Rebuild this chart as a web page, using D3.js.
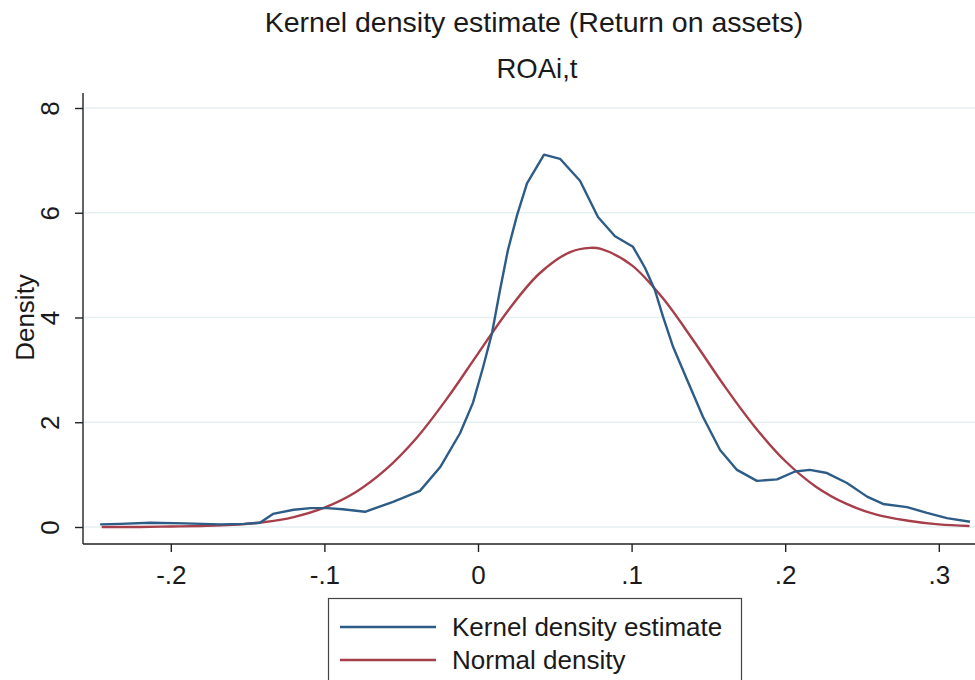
<!DOCTYPE html>
<html>
<head>
<meta charset="utf-8">
<script src="https://cdn.jsdelivr.net/npm/d3@7/dist/d3.min.js"></script>
<style>
  html, body { margin: 0; padding: 0; background: #ffffff; }
  svg { display: block; }
  text { font-family: "Liberation Sans", Arial, Helvetica, sans-serif; fill: #1a1a1a; }
</style>
</head>
<body>
<svg id="chart" width="975" height="680"></svg>
<script>
// Kernel density estimate of ROA (x = return on assets, y = density)
const kernelX = [-0.246, -0.233, -0.2135, -0.191, -0.168, -0.152, -0.142, -0.1335, -0.120, -0.109,
                 -0.098, -0.088, -0.0736, -0.0553, -0.0378, -0.0247, -0.0117, -0.0033, 0.0033, 0.0091,
                 0.0143, 0.0195, 0.0254, 0.0319, 0.0430, 0.0534, 0.0664, 0.0781, 0.0892, 0.1009,
                 0.1087, 0.1152, 0.1204, 0.1270, 0.1361, 0.1465, 0.1576, 0.1686, 0.1816, 0.1947,
                 0.2064, 0.2161, 0.2272, 0.2402, 0.2533, 0.2637, 0.2793, 0.2923, 0.3053, 0.3203];
const kernelY = [0.05, 0.06, 0.08, 0.07, 0.05, 0.06, 0.08, 0.25, 0.33, 0.36,
                 0.36, 0.34, 0.29, 0.48, 0.69, 1.14, 1.79, 2.37, 3.05, 3.70,
                 4.52, 5.29, 5.95, 6.56, 7.11, 7.03, 6.61, 5.92, 5.55, 5.35,
                 4.95, 4.52, 4.02, 3.44, 2.81, 2.10, 1.47, 1.09, 0.88, 0.91,
                 1.06, 1.09, 1.03, 0.84, 0.58, 0.44, 0.38, 0.27, 0.17, 0.10];

// Normal density with the same mean and s.d.
const normalX = [-0.245, -0.22, -0.20, -0.18, -0.16, -0.14, -0.12, -0.10, -0.08, -0.06,
                 -0.04, -0.02, 0.00, 0.02, 0.04, 0.06, 0.073, 0.08, 0.10, 0.12, 0.14,
                 0.16, 0.18, 0.20, 0.22, 0.24, 0.26, 0.28, 0.30, 0.32];
const normalY = [0.00, 0.00, 0.01, 0.02, 0.04, 0.09, 0.19, 0.37, 0.66, 1.10,
                 1.70, 2.46, 3.31, 4.15, 4.84, 5.25, 5.33, 5.31, 5.00, 4.38, 3.57,
                 2.71, 1.92, 1.26, 0.77, 0.44, 0.23, 0.12, 0.05, 0.02];

const xTicks = [-0.2, -0.1, 0, 0.1, 0.2, 0.3];
const xTickLabels = ["-.2", "-.1", "0", ".1", ".2", ".3"];
const yTicks = [0, 2, 4, 6, 8];

const titleText = "Kernel density estimate (Return on assets)";
const subtitleText = "ROAi,t";
const yTitle = "Density";
const legendLabels = ["Kernel density estimate", "Normal density"];
const colors = ["#2d5c87", "#a63f4a"];

const svg = d3.select("#chart");

const x = d3.scaleLinear().domain([-0.2, 0.3]).range([170.8, 938.8]);
const y = d3.scaleLinear().domain([0, 8]).range([527, 108]);

const plotLeft = 83, plotRight = 975, plotTop = 93, plotBottom = 544;
const labelFont = "26px";

// grid lines
svg.append("g")
  .selectAll("line")
  .data(yTicks)
  .join("line")
  .attr("x1", plotLeft + 1).attr("x2", plotRight)
  .attr("y1", d => y(d)).attr("y2", d => y(d))
  .attr("stroke", "#e6eff1").attr("stroke-width", 1.6);

// y axis
const yAxis = d3.axisLeft(y).tickValues(yTicks).tickSize(8).tickPadding(0).tickFormat(d3.format("d"));
const gy = svg.append("g").attr("transform", `translate(${plotLeft},0)`).call(yAxis);
gy.select(".domain").attr("d", `M0,${plotTop}V${plotBottom}`).attr("stroke", "#222").attr("stroke-width", 1.4);
gy.selectAll(".tick line").attr("stroke", "#222").attr("stroke-width", 1.4);
gy.selectAll(".tick text")
  .attr("x", 0).attr("y", 0).attr("dy", "0.36em")
  .attr("text-anchor", "middle")
  .attr("transform", "translate(-33,0) rotate(-90)")
  .style("font-size", labelFont).style("font-family", "'Liberation Sans', Arial, sans-serif").attr("fill", "#1a1a1a");
gy.selectAll(".tick text").attr("dy", null).attr("y", 9);

// x axis
const xAxis = d3.axisBottom(x).tickValues(xTicks).tickSize(8).tickPadding(14)
  .tickFormat((d, i) => xTickLabels[i]);
const gx = svg.append("g").attr("transform", `translate(0,${plotBottom})`).call(xAxis);
gx.select(".domain").attr("d", `M${plotLeft},0H${plotRight}`).attr("stroke", "#222").attr("stroke-width", 1.4);
gx.selectAll(".tick line").attr("stroke", "#222").attr("stroke-width", 1.4);
gx.selectAll(".tick text")
  .style("font-size", labelFont).style("font-family", "'Liberation Sans', Arial, sans-serif").attr("fill", "#1a1a1a");

// curves
const line = d3.line().x(d => x(d[0])).y(d => y(d[1]));
const smooth = d3.line().x(d => x(d[0])).y(d => y(d[1])).curve(d3.curveCatmullRom.alpha(0.5));

svg.append("path")
  .datum(normalX.map((v, i) => [v, normalY[i]]))
  .attr("d", smooth)
  .attr("fill", "none").attr("stroke", colors[1]).attr("stroke-width", 2.4)
  .attr("stroke-linejoin", "round");

svg.append("path")
  .datum(kernelX.map((v, i) => [v, kernelY[i]]))
  .attr("d", line)
  .attr("fill", "none").attr("stroke", colors[0]).attr("stroke-width", 2.4)
  .attr("stroke-linejoin", "round");

// titles
svg.append("text").attr("x", 534).attr("y", 32).attr("text-anchor", "middle")
  .style("font-size", "28.5px").text(titleText);
svg.append("text").attr("x", 537).attr("y", 78).attr("text-anchor", "middle")
  .style("font-size", "27.5px").text(subtitleText);
svg.append("text")
  .attr("transform", `translate(34,${y(4)}) rotate(-90)`)
  .attr("text-anchor", "middle")
  .style("font-size", labelFont).text(yTitle);

// legend
const lg = svg.append("g");
lg.append("rect").attr("x", 328.5).attr("y", 598.5).attr("width", 413).attr("height", 100)
  .attr("fill", "#fff").attr("stroke", "#444").attr("stroke-width", 1.2);
legendLabels.forEach((lab, i) => {
  const ly = 627 + i * 33;
  lg.append("line").attr("x1", 340).attr("x2", 436).attr("y1", ly).attr("y2", ly)
    .attr("stroke", colors[i]).attr("stroke-width", 2.6);
  lg.append("text").attr("x", 452).attr("y", ly + 9)
    .style("font-size", labelFont).text(lab);
});
</script>
</body>
</html>
